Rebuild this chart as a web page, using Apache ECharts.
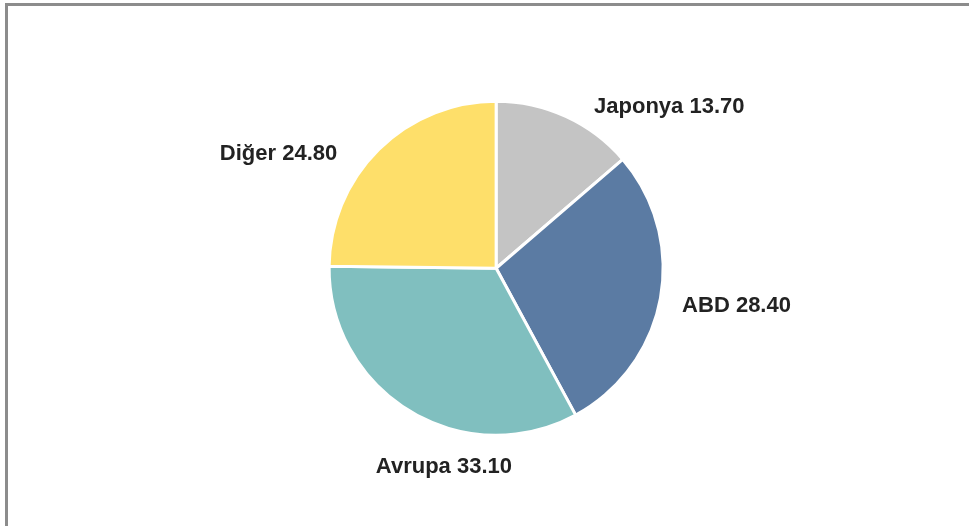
<!DOCTYPE html>
<html>
<head>
<meta charset="utf-8">
<script src="https://cdn.jsdelivr.net/npm/echarts@6/dist/echarts.min.js"></script>
<style>
  html, body { margin: 0; padding: 0; background: #fff; }
  #chart { position: absolute; left: 0; top: 0; width: 969px; height: 526px; }
  .frame { position: absolute; left: 5px; top: 3px; right: 0; bottom: 0;
           border-left: 3px solid #8c8c8c; border-top: 3px solid #8c8c8c; pointer-events: none; }
</style>
</head>
<body>
<div id="chart"></div>
<div class="frame"></div>
<script>
  // bölgeler ve değerler
  var names = ["Japonya", "ABD", "Avrupa", "Diğer"];
  var values = [13.70, 28.40, 33.10, 24.80];
  var colors = ["#c4c4c4", "#5b7ba3", "#80bfbf", "#fedf6a"];
  // etiket kaydırma (px)
  var labelShift = [[7, 4], [-8, 5], [125, 43], [-16, 15]];

  var data = [];
  for (var i = 0; i < names.length; i++) {
    data.push({ name: names[i], value: values[i], itemStyle: { color: colors[i] } });
  }

  var option = {
    animation: false,
    series: [{
      type: 'pie',
      center: ['51.2%', '51%'],
      radius: '63.5%',
      startAngle: 90,
      clockwise: true,
      itemStyle: { borderColor: '#ffffff', borderWidth: 3 },
      label: {
        show: true,
        position: 'outside',
        formatter: function (p) { return p.name + ' ' + p.value.toFixed(2); },
        color: '#222222',
        fontFamily: '"Liberation Sans", Arial, sans-serif',
        fontWeight: 'bold',
        fontSize: 22
      },
      labelLine: { show: false, length: 15, length2: 10 },
      labelLayout: function (p) {
        var s = labelShift[p.dataIndex];
        return { dx: s[0], dy: s[1] };
      },
      data: data
    }]
  };

  var myChart = echarts.init(document.getElementById('chart'));
  myChart.setOption(option);
</script>
</body>
</html>
